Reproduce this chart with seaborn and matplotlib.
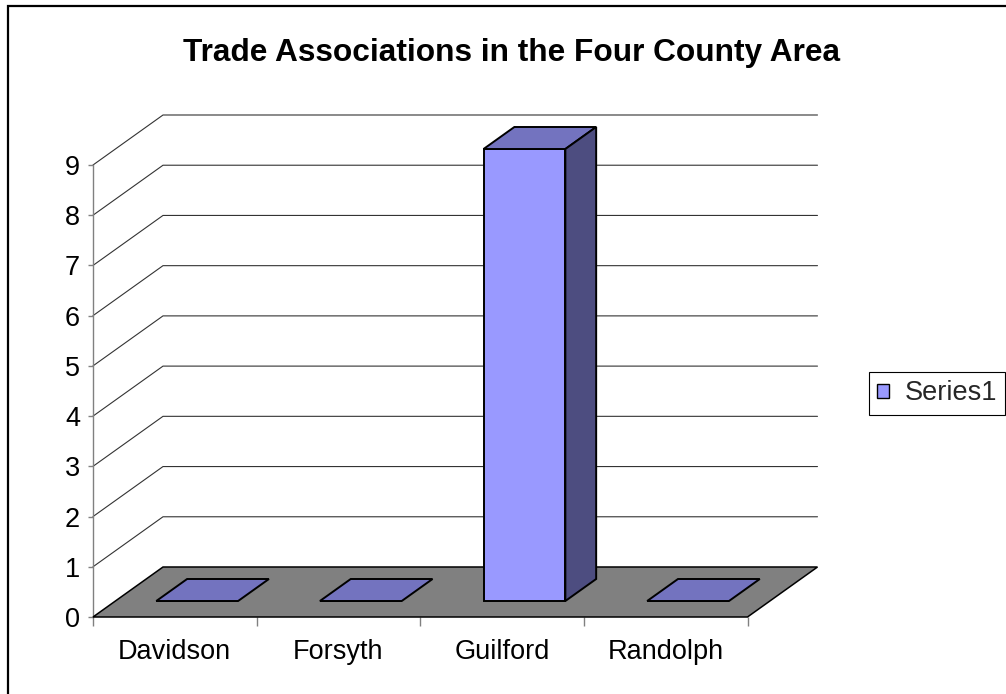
import matplotlib
matplotlib.use('Agg')
import matplotlib.pyplot as plt
import seaborn as sns
import numpy as np
import pandas as pd
from matplotlib.patches import Polygon, Rectangle, Patch
from matplotlib.transforms import Affine2D

# ---- data ----
counties = ["Davidson", "Forsyth", "Guilford", "Randolph"]
associations = [0, 0, 9, 0]
y_ticks = [0, 1, 2, 3, 4, 5, 6, 7, 8, 9]
title = "Trade Associations in the Four County Area"
series_name = "Series1"

# ---- style ----
W, H = 1006, 694
sns.set_theme(style='white')
plt.rcParams['font.family'] = ['Liberation Sans', 'DejaVu Sans']

FRONT = '#9999FF'
SIDE = '#4D4D80'
TOP = '#7373BF'
FLOOR = '#808080'
FS = 19.5

fig = plt.figure(figsize=(W / 100, H / 100), dpi=100)
fig.patch.set_facecolor('white')
ax = fig.add_axes([93 / W, (H - 617) / H, 654.5 / W, 452 / H])
ax.patch.set_visible(False)

df = pd.DataFrame({'County': counties, 'Count': associations})
sns.barplot(data=df, x='County', y='Count', color=FRONT, width=0.5,
            edgecolor='black', linewidth=1.4, saturation=1, ax=ax,
            errorbar=None, zorder=5)
bars = list(ax.patches)

ax.set_xlim(-0.5, len(counties) - 0.5)
ax.set_ylim(0, 9)

# oblique depth vector (data units) and bar depth placement
DX, DY = 70 / 163.625, 50 / 50.22
F0, F1 = 0.32, 0.76
ox, oy = F0 * DX, F0 * DY
bx, by = (F1 - F0) * DX, (F1 - F0) * DY

xl, xr = -0.5, len(counties) - 0.5

# floor
ax.add_patch(Polygon([(xl, 0), (xr, 0), (xr + DX, DY), (xl + DX, DY)], closed=True,
                     facecolor=FLOOR, edgecolor='black', lw=1.1, clip_on=False, zorder=1))

# walls gridlines
for v in y_ticks[1:]:
    ax.plot([xl, xl + DX, xr + DX], [v, v + DY, v + DY], color='#333333', lw=0.8,
            clip_on=False, zorder=0.5, solid_joinstyle='miter')

# 3D bars
for p in bars:
    x0 = p.get_x()
    w = p.get_width()
    h = p.get_height()
    p.set_transform(Affine2D().translate(ox, oy) + ax.transData)
    p.set_clip_on(False)
    x0f, x1f = x0 + ox, x0 + w + ox
    y0f, y1f = oy, h + oy
    ax.add_patch(Polygon([(x0f, y1f), (x1f, y1f), (x1f + bx, y1f + by), (x0f + bx, y1f + by)],
                         closed=True, facecolor=TOP, edgecolor='black', lw=1.4,
                         clip_on=False, zorder=6, joinstyle='miter'))
    if h > 0:
        ax.add_patch(Polygon([(x1f, y0f), (x1f, y1f), (x1f + bx, y1f + by), (x1f + bx, y0f + by)],
                             closed=True, facecolor=SIDE, edgecolor='black', lw=1.4,
                             clip_on=False, zorder=6, joinstyle='miter'))

# axes / ticks
ax.set_xlabel('')
ax.set_ylabel('')
ax.set_yticks(y_ticks)
ax.set_yticklabels([str(t) for t in y_ticks])
ax.tick_params(axis='y', which='major', direction='out', length=3.6, width=1,
               color='#808080', pad=5.8, labelsize=FS, left=True, labelcolor='black')
ax.set_xticks(range(len(counties)))
ax.set_xticklabels(counties)
ax.tick_params(axis='x', which='major', length=0, pad=15.5, labelsize=FS, labelcolor='black')
ax.set_xticks(np.arange(-0.5, len(counties)), minor=True)
ax.tick_params(axis='x', which='minor', direction='out', length=6.5, width=1,
               color='#808080', bottom=True)
for s in ['top', 'right', 'bottom']:
    ax.spines[s].set_visible(False)
ax.spines['left'].set_color('#808080')
ax.spines['left'].set_linewidth(1.0)
ax.spines['left'].set_zorder(0.6)

# title
fig.text(512 / W, 1 - 61 / H, title, ha='center', va='baseline',
         fontsize=22.75, fontweight='bold', color='black')

# legend
leg = fig.legend(handles=[Patch(facecolor=FRONT, edgecolor='black', lw=1, label=series_name)],
                 loc='center left', bbox_to_anchor=(869 / W, 1 - 393.5 / H),
                 frameon=True, fancybox=False, edgecolor='black', framealpha=1,
                 fontsize=FS, handlelength=0.42, handleheight=0.42, handletextpad=0.6,
                 borderpad=0.3, borderaxespad=0)
leg.get_frame().set_linewidth(0.8)

# outer chart border
fig.patches.append(Rectangle((8 / W, -0.1), 1.2, (H - 6) / H + 0.1, transform=fig.transFigure,
                             fill=False, edgecolor='black', lw=1.6, zorder=10))

fig.savefig('out.png', dpi=100)
